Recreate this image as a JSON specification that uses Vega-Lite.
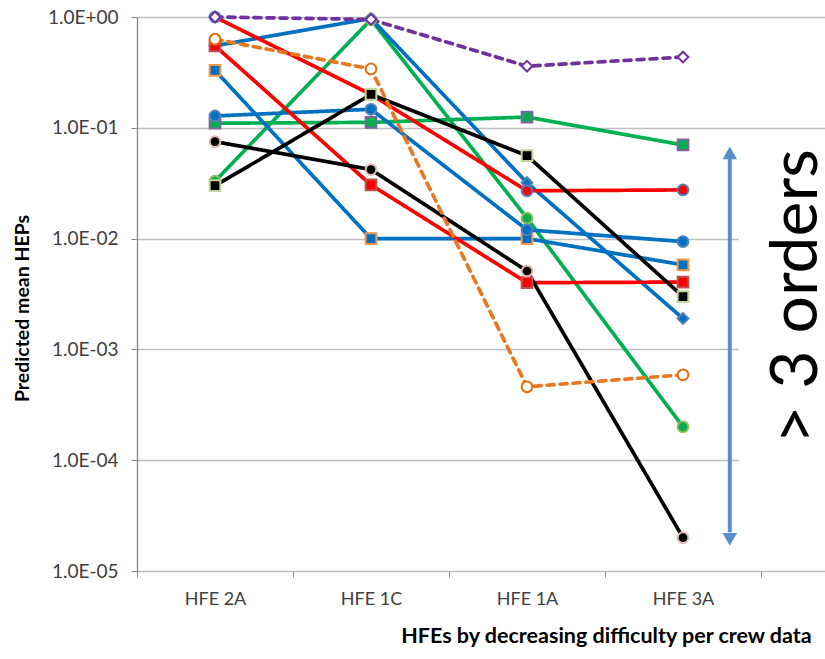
{
  "$schema": "https://vega.github.io/schema/vega-lite/v6.json",
  "width": 688,
  "height": 554,
  "autosize": {"type": "none"},
  "padding": {"left": 137, "top": 17, "right": 0, "bottom": 88},
  "background": "white",
  "config": {"font": "Lato", "view": {"stroke": null}},
  "datasets": {
    "heps": [
      {"series": "Green circle", "hfe": "HFE 2A", "hep": 0.033},
      {"series": "Green circle", "hfe": "HFE 1C", "hep": 0.95},
      {"series": "Green circle", "hfe": "HFE 1A", "hep": 0.0153},
      {"series": "Green circle", "hfe": "HFE 3A", "hep": 0.0002},
      {"series": "Green square", "hfe": "HFE 2A", "hep": 0.11},
      {"series": "Green square", "hfe": "HFE 1C", "hep": 0.112},
      {"series": "Green square", "hfe": "HFE 1A", "hep": 0.125},
      {"series": "Green square", "hfe": "HFE 3A", "hep": 0.07},
      {"series": "Blue square", "hfe": "HFE 2A", "hep": 0.33},
      {"series": "Blue square", "hfe": "HFE 1C", "hep": 0.01},
      {"series": "Blue square", "hfe": "HFE 1A", "hep": 0.01},
      {"series": "Blue square", "hfe": "HFE 3A", "hep": 0.0058},
      {"series": "Blue circle", "hfe": "HFE 2A", "hep": 0.128},
      {"series": "Blue circle", "hfe": "HFE 1C", "hep": 0.147},
      {"series": "Blue circle", "hfe": "HFE 1A", "hep": 0.012},
      {"series": "Blue circle", "hfe": "HFE 3A", "hep": 0.0094},
      {"series": "Blue diamond", "hfe": "HFE 2A", "hep": 0.55},
      {"series": "Blue diamond", "hfe": "HFE 1C", "hep": 0.97},
      {"series": "Blue diamond", "hfe": "HFE 1A", "hep": 0.032},
      {"series": "Blue diamond", "hfe": "HFE 3A", "hep": 0.0019},
      {"series": "Red square", "hfe": "HFE 2A", "hep": 0.55},
      {"series": "Red square", "hfe": "HFE 1C", "hep": 0.0305},
      {"series": "Red square", "hfe": "HFE 1A", "hep": 0.004},
      {"series": "Red square", "hfe": "HFE 3A", "hep": 0.00405},
      {"series": "Red circle", "hfe": "HFE 2A", "hep": 1.0},
      {"series": "Red circle", "hfe": "HFE 1C", "hep": 0.2},
      {"series": "Red circle", "hfe": "HFE 1A", "hep": 0.027},
      {"series": "Red circle", "hfe": "HFE 3A", "hep": 0.0275},
      {"series": "Black circle", "hfe": "HFE 2A", "hep": 0.075},
      {"series": "Black circle", "hfe": "HFE 1C", "hep": 0.042},
      {"series": "Black circle", "hfe": "HFE 1A", "hep": 0.0051},
      {"series": "Black circle", "hfe": "HFE 3A", "hep": 0.00002},
      {"series": "Black square", "hfe": "HFE 2A", "hep": 0.03},
      {"series": "Black square", "hfe": "HFE 1C", "hep": 0.2},
      {"series": "Black square", "hfe": "HFE 1A", "hep": 0.056},
      {"series": "Black square", "hfe": "HFE 3A", "hep": 0.003},
      {"series": "Orange dashed", "hfe": "HFE 2A", "hep": 0.63},
      {"series": "Orange dashed", "hfe": "HFE 1C", "hep": 0.34},
      {"series": "Orange dashed", "hfe": "HFE 1A", "hep": 0.00046},
      {"series": "Orange dashed", "hfe": "HFE 3A", "hep": 0.00059},
      {"series": "Purple dashed", "hfe": "HFE 2A", "hep": 1.0},
      {"series": "Purple dashed", "hfe": "HFE 1C", "hep": 0.95},
      {"series": "Purple dashed", "hfe": "HFE 1A", "hep": 0.36},
      {"series": "Purple dashed", "hfe": "HFE 3A", "hep": 0.435}
    ],
    "arrow": [
      {"part": "top", "hfe": "HFE 3A", "tip": 0.0594, "shaft": 0.0536},
      {"part": "bottom", "hfe": "HFE 3A", "tip": 0.0000193, "shaft": 0.0000224}
    ]
  },
  "resolve": {"scale": {"x": "independent"}, "axis": {"x": "independent"}},
  "layer": [
    {
      "data": {"values": [{"box": "label backdrop"}]},
      "mark": {"type": "rect", "fill": "#FFFFFF"},
      "encoding": {
        "x": {"datum": 0.875, "type": "quantitative", "scale": {"domain": [0, 1], "nice": false, "zero": false}, "axis": null},
        "x2": {"datum": 1.0},
        "y": {"datum": 0.075, "type": "quantitative"},
        "y2": {"datum": 0.000013}
      }
    },
    {
      "layer": [
        {
          "data": {"name": "heps"},
          "mark": {"type": "line", "strokeCap": "round"},
          "encoding": {
            "x": {
              "field": "hfe", "type": "nominal",
              "scale": {"type": "band", "domain": ["HFE 2A", "HFE 1C", "HFE 1A", "HFE 3A"], "range": [0, 624], "paddingInner": 0, "paddingOuter": 0},
              "axis": {
                "orient": "bottom",
                "title": "HFEs by decreasing difficulty per crew data",
                "titleFontSize": 21.5, "titleFontWeight": "bold", "titleColor": "#000000",
                "titleX": 469, "titleY": 71, "titleAlign": "center", "titleBaseline": "alphabetic",
                "labelFontSize": 18, "labelColor": "#404040", "labelPadding": 13,
                "domain": false, "ticks": true, "tickBand": "extent", "tickColor": "#868686", "tickSize": 6,
                "labelAngle": 0, "grid": false
              }
            },
            "y": {
              "field": "hep", "type": "quantitative",
              "scale": {"type": "log", "domain": [0.00001, 1], "nice": false},
              "axis": {
                "title": "Predicted mean HEPs",
                "titleFontSize": 19.5, "titleFontWeight": "bold", "titleColor": "#000000",
                "titleX": -115, "titleY": 291, "titleAlign": "center", "titleBaseline": "middle",
                "values": [0.00001, 0.0001, 0.001, 0.01, 0.1, 1],
                "labelExpr": "'1.0E' + (datum.value >= 1 ? '+00' : '-0' + (-round(log(datum.value) / LN10)))",
                "labelFontSize": 19, "labelColor": "#404040", "labelPadding": 13,
                "grid": true, "gridColor": "#BFBFBF", "gridWidth": 1.3,
                "domainColor": "#868686", "domainWidth": 1.3, "tickColor": "#868686", "tickSize": 6
              }
            },
            "order": {"value": null},
            "color": {
              "field": "series", "type": "nominal", "legend": null,
              "scale": {
                "domain": ["Green circle", "Green square", "Blue square", "Blue circle", "Blue diamond", "Red square", "Red circle", "Black circle", "Black square", "Orange dashed", "Purple dashed"],
                "range": ["#00B050", "#00B050", "#0070C0", "#0070C0", "#0070C0", "#FF0000", "#FF0000", "#000000", "#000000", "#E87722", "#7030A0"]
              }
            },
            "strokeDash": {
              "field": "series", "type": "nominal", "legend": null,
              "scale": {
                "domain": ["Green circle", "Green square", "Blue square", "Blue circle", "Blue diamond", "Red square", "Red circle", "Black circle", "Black square", "Orange dashed", "Purple dashed"],
                "range": [[1, 0], [1, 0], [1, 0], [1, 0], [1, 0], [1, 0], [1, 0], [1, 0], [1, 0], [7, 6], [7, 6]]
              }
            },
            "strokeWidth": {
              "field": "series", "type": "nominal", "legend": null,
              "scale": {
                "domain": ["Green circle", "Green square", "Blue square", "Blue circle", "Blue diamond", "Red square", "Red circle", "Black circle", "Black square", "Orange dashed", "Purple dashed"],
                "range": [3.7, 3.7, 3.7, 3.7, 3.7, 3.7, 3.7, 3.7, 3.7, 2.2, 2.2]
              }
            }
          }
        },
        {
          "data": {"name": "heps"},
          "mark": {"type": "point", "filled": true, "opacity": 1, "strokeWidth": 2},
          "encoding": {
            "x": {"field": "hfe", "type": "nominal"},
            "y": {"field": "hep", "type": "quantitative"},
            "shape": {
              "field": "series", "type": "nominal", "legend": null,
              "scale": {
                "domain": ["Green circle", "Green square", "Blue square", "Blue circle", "Blue diamond", "Red square", "Red circle", "Black circle", "Black square", "Orange dashed", "Purple dashed"],
                "range": ["circle", "square", "square", "circle", "diamond", "square", "circle", "circle", "square", "circle", "diamond"]
              }
            },
            "fill": {
              "field": "series", "type": "nominal", "legend": null,
              "scale": {
                "domain": ["Green circle", "Green square", "Blue square", "Blue circle", "Blue diamond", "Red square", "Red circle", "Black circle", "Black square", "Orange dashed", "Purple dashed"],
                "range": ["#00B050", "#00B050", "#0070C0", "#0070C0", "#0070C0", "#FF0000", "#FF0000", "#000000", "#000000", "#FFFFFF", "#FFFFFF"]
              }
            },
            "stroke": {
              "field": "series", "type": "nominal", "legend": null,
              "scale": {
                "domain": ["Green circle", "Green square", "Blue square", "Blue circle", "Blue diamond", "Red square", "Red circle", "Black circle", "Black square", "Orange dashed", "Purple dashed"],
                "range": ["#9BBB59", "#8064A2", "#F79646", "#4F81BD", "#4F81BD", "#C0504D", "#4F81BD", "#E6B9B8", "#C3D69B", "#E46C0A", "#7030A0"]
              }
            },
            "size": {
              "field": "series", "type": "nominal", "legend": null,
              "scale": {
                "domain": ["Green circle", "Green square", "Blue square", "Blue circle", "Blue diamond", "Red square", "Red circle", "Black circle", "Black square", "Orange dashed", "Purple dashed"],
                "range": [115, 115, 115, 115, 140, 115, 115, 105, 115, 125, 105]
              }
            }
          }
        },
        {
          "data": {"name": "arrow"},
          "transform": [{"filter": "datum.part === 'top'"}],
          "mark": {"type": "rule", "color": "#5B8FCB", "strokeWidth": 4},
          "encoding": {
            "x": {"field": "hfe", "type": "nominal", "bandPosition": 0.8},
            "y": {"field": "shaft", "type": "quantitative"},
            "y2": {"datum": 0.0000224}
          }
        },
        {
          "data": {"name": "arrow"},
          "transform": [{"filter": "datum.part === 'top'"}],
          "mark": {"type": "point", "shape": "triangle-up", "filled": true, "color": "#5B8FCB", "opacity": 1, "size": 210},
          "encoding": {
            "x": {"field": "hfe", "type": "nominal", "bandPosition": 0.8},
            "y": {"field": "tip", "type": "quantitative"}
          }
        },
        {
          "data": {"name": "arrow"},
          "transform": [{"filter": "datum.part === 'bottom'"}],
          "mark": {"type": "point", "shape": "triangle-down", "filled": true, "color": "#5B8FCB", "opacity": 1, "size": 210},
          "encoding": {
            "x": {"field": "hfe", "type": "nominal", "bandPosition": 0.8},
            "y": {"field": "tip", "type": "quantitative"}
          }
        },
        {
          "data": {"values": [{"note": "> 3 orders", "hfe": "HFE 3A", "hep": 0.003}]},
          "mark": {"type": "text", "angle": 270, "fontSize": 66, "align": "center", "baseline": "middle", "color": "#000000", "font": "Lato"},
          "encoding": {
            "x": {"field": "hfe", "type": "nominal", "bandPosition": 1.23},
            "y": {"field": "hep", "type": "quantitative"},
            "text": {"field": "note"}
          }
        }
      ]
    }
  ]
}
